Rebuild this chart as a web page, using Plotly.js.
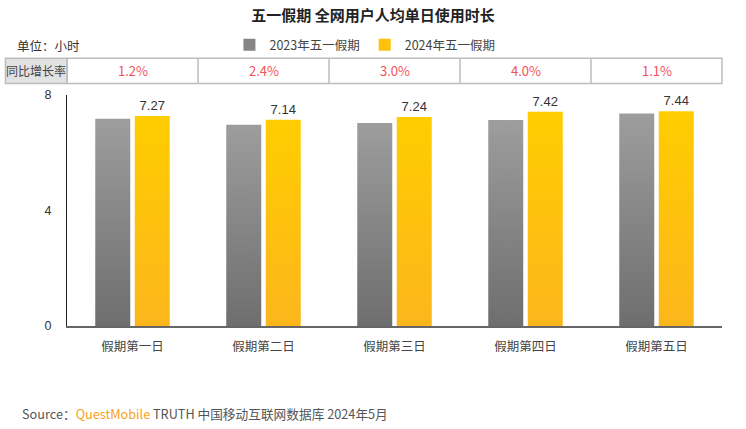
<!DOCTYPE html>
<html>
<head>
<meta charset="utf-8">
<script src="https://cdn.plot.ly/plotly-3.0.1.min.js"></script>
<style>
  body { margin: 0; background: #fff; }
  #chart { width: 746px; height: 429px; }
</style>
</head>
<body>
<div id="chart"></div>
<script>
const days = ["假期第一日", "假期第二日", "假期第三日", "假期第四日", "假期第五日"];
const hours2023 = [7.18, 6.97, 7.03, 7.13, 7.36];
const hours2024 = [7.27, 7.14, 7.24, 7.42, 7.44];
const growth = ["1.2%", "2.4%", "3.0%", "4.0%", "1.1%"];
const yTicks = [0, 4, 8];

const cjk = "Noto Sans CJK SC, sans-serif";
const latin = "Liberation Sans, Arial, sans-serif";

const traces = [
  {
    type: "bar",
    name: "2023年五一假期",
    x: days,
    y: hours2023,
    marker: { color: "#858585" },
    hoverinfo: "x+y"
  },
  {
    type: "bar",
    name: "2024年五一假期",
    x: days,
    y: hours2024,
    marker: { color: "#fec20c" },
    text: hours2024.map(v => v.toFixed(2)),
    textposition: "outside",
    cliponaxis: false,
    textfont: { family: latin, size: 13, color: "#333" },
    hoverinfo: "x+y"
  }
];

// table row above the plot (paper coords)
const tTop = 1.1586, tBot = 1.0503, tLeft = -0.094;
const tMid = (tTop + tBot) / 2;
const shapes = [
  { type: "rect", xref: "paper", yref: "paper", x0: tLeft, x1: 0, y0: tBot, y1: tTop,
    fillcolor: "#e2e2e2", line: { color: "#bdbdbd", width: 1.5 } },
  { type: "rect", xref: "paper", yref: "paper", x0: 0, x1: 1, y0: tBot, y1: tTop,
    fillcolor: "rgba(0,0,0,0)", line: { color: "#bdbdbd", width: 1.5 } }
];
[0.5, 1.5, 2.5, 3.5].forEach(b => {
  shapes.push({ type: "line", xref: "x", yref: "paper", x0: b, x1: b, y0: tBot, y1: tTop,
    line: { color: "#bdbdbd", width: 1.5 } });
});

const annotations = growth.map((g, i) => ({
  x: days[i], xref: "x", xanchor: "center", y: tMid, yref: "paper", yanchor: "middle",
  text: g, showarrow: false, font: { family: cjk, size: 13, color: "#f5505a" }
}));
annotations.push(
  { x: tLeft / 2, xref: "paper", xanchor: "center", y: tMid, yref: "paper", yanchor: "middle",
    text: "同比增长率",
    showarrow: false, font: { family: cjk, size: 12, color: "#444" } },
  { x: -0.079, xref: "paper", xanchor: "left", y: 1.216, yref: "paper", yanchor: "middle",
    text: "单位：小时",
    showarrow: false, font: { family: cjk, size: 12.5, color: "#333" } },
  { x: -0.0713, xref: "paper", xanchor: "left", y: -0.378, yref: "paper", yanchor: "middle",
    text: "Source：<span style='color:#f7a21b'>QuestMobile</span> TRUTH 中国移动互联网数据库 2024年5月",
    showarrow: false, font: { family: cjk, size: 12.7, color: "#555" } }
);

const layout = {
  width: 746,
  height: 429,
  margin: { l: 67, r: 24, t: 95, b: 103 },
  paper_bgcolor: "#fff",
  plot_bgcolor: "#fff",
  title: {
    text: "<b>五一假期 全网用户人均单日使用时长</b>",
    font: { family: cjk, size: 15, color: "#222" },
    x: 0.5, xref: "container", y: 0.963, yref: "container", yanchor: "middle"
  },
  barmode: "group",
  bargap: 0.397,
  bargroupgap: 0.114,
  showlegend: true,
  legend: {
    orientation: "h",
    x: 0.248, xanchor: "left",
    y: 1.216, yanchor: "middle",
    font: { family: cjk, size: 12.5, color: "#444" },
    itemwidth: 30,
    bgcolor: "rgba(0,0,0,0)"
  },
  xaxis: {
    type: "category",
    showline: true, linecolor: "#666", linewidth: 1.5,
    ticks: "", showgrid: false, zeroline: false,
    tickfont: { family: cjk, size: 12.5, color: "#444" },
    ticklabelstandoff: 8
  },
  yaxis: {
    range: [0, 8],
    tickvals: yTicks,
    showline: true, linecolor: "#222", linewidth: 1,
    ticks: "", showgrid: false, zeroline: false,
    tickfont: { family: latin, size: 12.5, color: "#333" },
    ticklabelstandoff: 12
  },
  shapes: shapes,
  annotations: annotations
};

Plotly.newPlot("chart", traces, layout, { displayModeBar: false, staticPlot: true }).then(gd => {
  // vertical gradients for the bars, as in the source chart
  const svg = gd.querySelector("svg.main-svg");
  const ns = "http://www.w3.org/2000/svg";
  let defs = svg.querySelector("defs");
  const grads = [["gGray", "#9d9d9d", "#6e6e6e"], ["gGold", "#ffcd00", "#fcb61c"]];
  grads.forEach(([id, c1, c2]) => {
    const lg = document.createElementNS(ns, "linearGradient");
    lg.setAttribute("id", id);
    lg.setAttribute("x1", "0"); lg.setAttribute("y1", "0");
    lg.setAttribute("x2", "0"); lg.setAttribute("y2", "1");
    [["0", c1], ["1", c2]].forEach(([o, c]) => {
      const st = document.createElementNS(ns, "stop");
      st.setAttribute("offset", o);
      st.setAttribute("stop-color", c);
      lg.appendChild(st);
    });
    defs.appendChild(lg);
  });
  const barTraces = gd.querySelectorAll(".barlayer .trace");
  barTraces.forEach((t, i) => {
    t.querySelectorAll(".point path").forEach(p => {
      p.style.fill = "url(#" + grads[i][0] + ")";
    });
  });
});
</script>
</body>
</html>
